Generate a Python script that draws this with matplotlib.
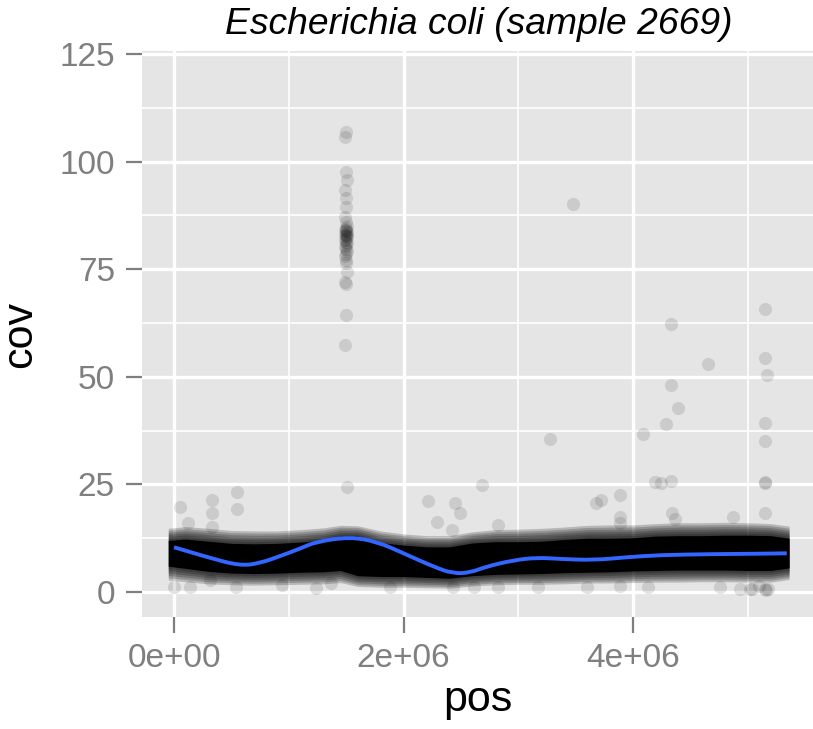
import matplotlib
matplotlib.use("Agg")
import matplotlib.pyplot as plt
from matplotlib.path import Path
from matplotlib.patches import PathPatch
import numpy as np

plt.rcParams['font.family'] = ['Liberation Sans', 'DejaVu Sans']

# ---- data (pos in units of 1e6) ----
# dense band of overlapping points: envelope
band_pos = [-0.05, 0.1, 0.3, 0.5, 0.7, 0.9, 1.1, 1.3, 1.45, 1.6, 1.8, 2.0, 2.2, 2.4,
            2.6, 2.8, 3.0, 3.2, 3.4, 3.6, 3.8, 4.0, 4.2, 4.4, 4.6, 4.8, 5.0, 5.2, 5.36]
core_top = [12.0, 12.3, 11.8, 11.3, 11.2, 11.3, 11.6, 12.1, 13.0, 13.0, 11.5, 10.9, 10.5, 10.5,
            11.4, 11.7, 11.7, 11.8, 12.2, 12.5, 12.5, 12.6, 13.0, 13.1, 13.1, 13.2, 13.2, 13.1, 12.5]
core_bot = [6.0, 5.5, 4.8, 4.4, 4.3, 4.4, 4.6, 4.7, 5.0, 3.8, 3.6, 3.6, 3.4, 3.2,
            3.8, 4.1, 4.2, 4.3, 4.5, 4.6, 4.7, 4.9, 5.0, 5.1, 5.1, 5.1, 5.0, 5.0, 5.6]
halo_top = [14.8, 15.2, 14.8, 14.3, 14.2, 14.2, 14.5, 14.9, 15.5, 15.4, 14.2, 13.5, 13.1, 13.1,
            14.0, 14.5, 14.6, 14.8, 15.1, 15.5, 15.6, 15.6, 15.9, 16.1, 16.1, 16.2, 16.1, 15.9, 15.3]
halo_bot = [2.8, 2.4, 1.9, 1.7, 1.6, 1.7, 1.8, 1.9, 2.2, 1.3, 1.1, 1.1, 1.0, 0.9,
            1.4, 1.7, 1.8, 1.8, 1.9, 2.1, 2.1, 2.2, 2.3, 2.3, 2.4, 2.4, 2.3, 2.3, 2.9]

# vertical cluster near 1.5e6
cluster_pos = [1.50, 1.49, 1.50, 1.51, 1.49, 1.50, 1.50, 1.49, 1.50, 1.51, 1.50, 1.49, 1.50,
               1.51, 1.50, 1.49, 1.50, 1.51, 1.50, 1.49, 1.50, 1.51, 1.50, 1.49, 1.50, 1.51,
               1.50, 1.49, 1.50, 1.50, 1.51, 1.49, 1.50, 1.50, 1.49, 1.50, 1.51]
cluster_cov = [106.8, 105.8, 97.6, 95.7, 93.5, 91.5, 89.5, 87.2, 86.0, 85.0, 84.6, 84.2, 83.8,
               83.6, 83.2, 83.0, 82.7, 82.4, 82.1, 81.8, 81.4, 81.0, 80.6, 80.2, 79.6, 79.2,
               78.6, 78.0, 77.2, 76.4, 74.3, 72.0, 71.6, 64.4, 57.4, 84.0, 82.9]

# scattered points above the band
high_pos = [0.05, 0.12, 0.33, 0.33, 0.33, 0.55, 0.55, 1.51, 2.21, 2.29, 2.45, 2.49, 2.42,
            2.68, 2.82, 3.68, 3.72, 3.89, 3.89, 3.89, 4.24, 4.34, 4.37, 4.87, 5.15, 5.15,
            3.28, 3.48, 4.09, 4.29, 4.33, 4.33, 4.39, 4.19, 4.33, 4.65, 5.15, 5.15, 5.17,
            5.15, 5.15, 5.15]
high_cov = [19.8, 16.0, 21.4, 18.3, 15.2, 23.3, 19.3, 24.4, 21.2, 16.3, 20.7, 18.3, 14.4,
            24.9, 15.6, 20.6, 21.4, 22.5, 17.5, 16.0, 25.3, 18.3, 17.0, 17.5, 25.3, 18.3,
            35.5, 90.1, 36.7, 39.0, 62.3, 48.0, 42.7, 25.5, 25.8, 53.0, 65.7, 54.4, 50.4,
            39.3, 35.1, 25.6]

# scattered points below the band
low_pos = [0.0, 0.14, 0.31, 0.54, 0.94, 1.24, 1.37, 1.88, 2.43, 2.61, 2.82, 3.17, 3.60,
           3.89, 4.13, 4.76, 4.93, 5.02, 5.04, 5.15, 5.18, 5.16, 5.10]
low_cov = [1.2, 1.2, 2.8, 1.2, 1.6, 0.9, 2.1, 1.2, 1.2, 1.2, 1.2, 1.2, 1.2,
           1.4, 1.2, 1.2, 0.6, 0.6, 0.8, 0.8, 0.8, 0.5, 1.3]

# smoothed trend line
smooth_pos = [0.0, 0.30, 0.575, 0.75, 0.95, 1.1, 1.24, 1.53, 1.77, 2.0, 2.26, 2.43, 2.58,
              2.72, 2.96, 3.16, 3.36, 3.65, 3.95, 4.24, 4.67, 5.11, 5.34]
smooth_cov = [10.4, 8.0, 6.1, 6.7, 8.6, 10.1, 11.7, 12.8, 11.7, 9.0, 5.9, 4.3, 4.5,
              5.9, 7.4, 8.0, 7.7, 7.4, 8.1, 8.6, 8.8, 8.9, 9.0]

x_ticks = [0, 2e6, 4e6]
x_labels = ["0e+00", "2e+06", "4e+06"]
y_ticks = [0, 25, 50, 75, 100, 125]

# ---- figure ----
W, H = 813, 729
fig = plt.figure(figsize=(W / 100, H / 100), dpi=100)
ax = fig.add_axes([142 / W, (H - 617) / H, (813 - 142) / W, (617 - 50.5) / H])
ax.set_facecolor("#E5E5E5")
for s in ax.spines.values():
    s.set_visible(False)

ax.set_xlim(-0.2789e6, 5.5686e6)
ax.set_ylim(-5.8, 125.8)

# grid
for v in [1e6, 3e6, 5e6]:
    ax.axvline(v, color="white", lw=1.2, zorder=0.5)
for v in [12.5, 37.5, 62.5, 87.5, 112.5]:
    ax.axhline(v, color="white", lw=1.2, zorder=0.5)
for v in x_ticks:
    ax.axvline(v, color="white", lw=2.4, zorder=0.6)
for v in y_ticks:
    ax.axhline(v, color="white", lw=2.4, zorder=0.6)

# dense band: graded layers from the outer fuzz to the solid core
bp = np.array(band_pos) * 1e6
ht, hb = np.array(halo_top), np.array(halo_bot)
ct, cb = np.array(core_top), np.array(core_bot)
nl = 6
for k in range(nl):
    f = k / nl
    ax.fill_between(bp, hb + (cb - hb) * f, ht + (ct - ht) * f, color="black",
                    alpha=0.2, lw=0, zorder=2)
ax.fill_between(bp, cb, ct, color="black", alpha=1.0, lw=0, zorder=2)

ms = 90
for px, py in [(cluster_pos, cluster_cov), (high_pos, high_cov), (low_pos, low_cov)]:
    ax.scatter(np.array(px) * 1e6, py, s=ms, color="black", alpha=0.11,
               linewidths=0, zorder=3)

# smooth trend line, drawn as quadratic Bezier through midpoints
sx = np.array(smooth_pos) * 1e6
sy = np.array(smooth_cov)
verts = [(sx[0], sy[0])]
codes = [Path.MOVETO]
for i in range(1, len(sx) - 1):
    mx, my = (sx[i] + sx[i + 1]) / 2, (sy[i] + sy[i + 1]) / 2
    verts += [(sx[i], sy[i]), (mx, my)]
    codes += [Path.CURVE3, Path.CURVE3]
verts.append((sx[-1], sy[-1]))
codes.append(Path.LINETO)
ax.add_patch(PathPatch(Path(verts, codes), facecolor="none", edgecolor="#3366FF",
                       lw=2.8, zorder=4, capstyle="butt"))

ax.set_xticks(x_ticks)
ax.set_xticklabels(x_labels)
ax.set_yticks(y_ticks)
ax.tick_params(axis="both", which="major", length=11.5, width=1.6, color="#7F7F7F",
               labelcolor="#7F7F7F", labelsize=24)
ax.tick_params(axis="x", pad=7)
ax.tick_params(axis="y", pad=8)

fig.text(479 / W, 1 - 25 / H, "Escherichia coli (sample 2669)", ha="center", va="center",
         fontsize=26.8, style="italic", color="black")
fig.text(477.5 / W, 1 - 700 / H, "pos", ha="center", va="center", fontsize=31, color="black")
fig.text(20 / W, 1 - 334 / H, "cov", ha="center", va="center", fontsize=31, color="black",
         rotation=90)

fig.savefig("out.png", dpi=100)
